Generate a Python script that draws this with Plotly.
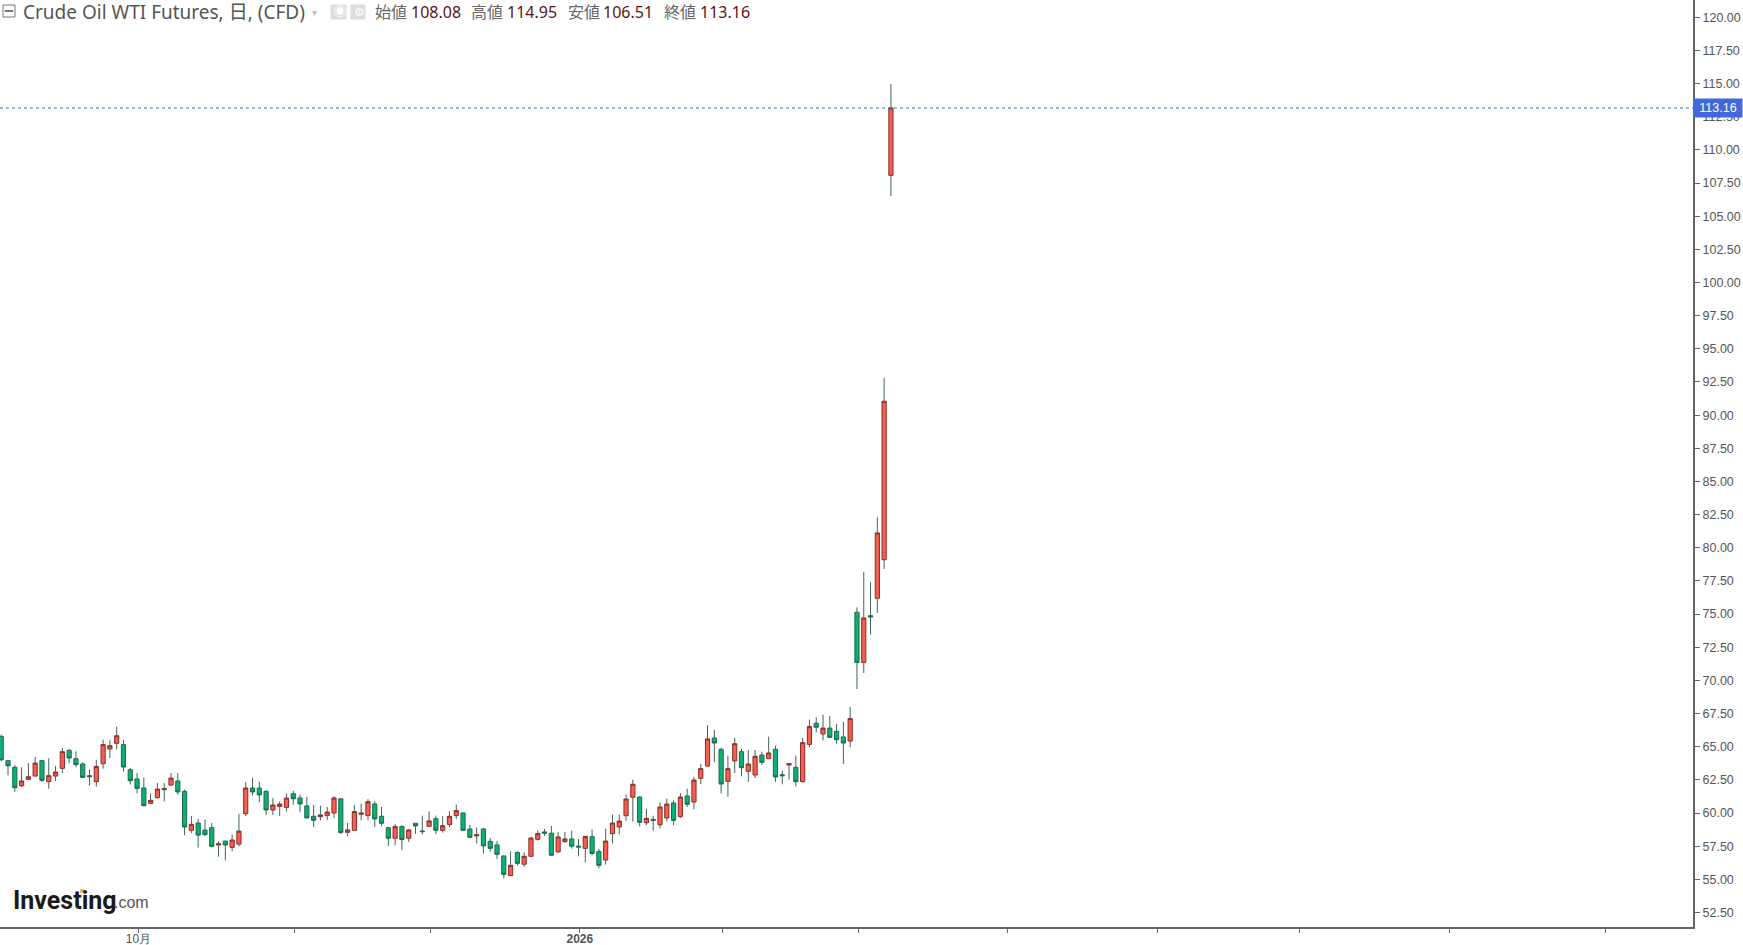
import plotly.graph_objects as go

# daily candles
opens = [65.78, 63.95, 63.45, 62.06, 62.54, 62.79, 63.95, 62.37, 62.79, 63.37,
         64.73, 64.10, 63.70, 62.82, 62.37, 63.72, 64.83, 65.26, 65.16, 63.27,
         62.57, 61.89, 60.73, 61.16, 61.76, 62.11, 62.42, 61.64, 58.70, 59.25,
         58.72, 58.90, 57.59, 57.89, 57.41, 57.66, 59.95, 61.89, 61.89, 61.64,
         60.23, 60.50, 60.43, 61.46, 61.14, 60.54, 59.76, 59.73, 59.81, 60.01,
         61.07, 58.55, 58.70, 59.91, 59.81, 60.69, 59.76, 58.90, 58.10, 58.98,
         58.10, 59.23, 58.65, 59.00, 59.58, 58.70, 59.13, 59.81, 60.01, 58.80,
         58.27, 58.80, 57.87, 57.60, 56.77, 55.28, 57.02, 56.14, 56.74, 58.02,
         58.58, 58.48, 57.07, 57.85, 58.05, 57.51, 57.34, 58.22, 57.11, 56.46,
         58.45, 58.95, 59.80, 61.19, 61.21, 59.27, 59.53, 59.12, 59.63, 60.76,
         59.73, 61.29, 60.83, 62.62, 63.55, 65.66, 64.81, 62.39, 63.93, 64.63,
         63.15, 62.87, 64.38, 64.10, 64.81, 62.89, 63.62, 63.45, 62.37, 65.18,
         66.77, 65.96, 66.41, 66.16, 65.74, 65.43, 75.14, 71.36, 74.88, 76.20,
         79.10, 108.08]
highs = [65.91, 64.02, 63.60, 63.45, 63.77, 64.23, 63.97, 64.13, 63.55, 64.90,
         64.83, 64.65, 63.82, 63.27, 64.02, 65.53, 65.48, 66.51, 65.51, 63.40,
         63.02, 62.67, 61.49, 62.26, 62.26, 63.02, 63.02, 61.76, 59.78, 59.55,
         59.52, 59.27, 57.87, 57.89, 58.37, 59.95, 62.34, 62.67, 62.37, 61.71,
         61.13, 60.88, 61.49, 61.69, 61.39, 61.22, 60.61, 60.56, 60.46, 61.27,
         61.12, 59.25, 60.61, 60.71, 61.04, 60.89, 60.46, 58.95, 59.18, 59.08,
         58.80, 59.25, 59.81, 60.13, 59.81, 59.78, 60.13, 60.64, 60.06, 59.10,
         58.90, 58.88, 58.12, 57.90, 56.79, 57.12, 57.12, 57.04, 58.20, 58.70,
         58.80, 59.03, 58.58, 58.58, 58.68, 58.04, 58.24, 58.75, 57.29, 58.82,
         59.88, 59.88, 61.39, 62.52, 61.26, 60.31, 59.80, 60.81, 61.09, 60.96,
         61.51, 61.84, 62.72, 63.70, 66.62, 66.29, 64.93, 64.33, 65.69, 64.83,
         64.76, 64.76, 64.63, 65.76, 65.08, 63.20, 63.77, 64.33, 65.66, 67.04,
         67.22, 67.42, 67.32, 66.72, 66.89, 68.00, 75.51, 78.18, 77.40, 82.30,
         92.81, 114.95]
lows = [63.90, 62.84, 61.59, 61.96, 62.52, 62.77, 62.34, 61.84, 62.42, 63.02,
        63.77, 63.45, 62.67, 62.09, 61.99, 63.35, 64.15, 64.80, 63.12, 62.16,
        61.49, 60.50, 60.71, 61.11, 60.88, 62.06, 61.38, 58.32, 58.49, 57.39,
        58.29, 57.41, 56.71, 56.43, 57.11, 57.49, 59.78, 61.33, 60.81, 59.85,
        59.85, 59.78, 60.13, 60.63, 60.06, 59.61, 58.95, 59.46, 59.46, 59.63,
        58.43, 58.25, 58.68, 59.46, 59.46, 58.95, 59.00, 57.50, 57.57, 57.22,
        57.82, 58.43, 58.40, 58.95, 58.40, 58.53, 58.95, 59.56, 58.65, 58.10,
        57.70, 56.94, 57.09, 56.54, 55.08, 55.26, 56.04, 55.94, 56.72, 57.92,
        58.27, 56.79, 57.04, 57.75, 57.32, 56.74, 56.28, 56.81, 55.83, 56.11,
        57.72, 58.39, 59.43, 59.35, 59.00, 59.10, 58.67, 58.85, 59.38, 59.07,
        59.63, 60.46, 60.28, 62.19, 63.47, 63.83, 61.49, 61.24, 63.02, 62.77,
        62.34, 62.64, 63.62, 64.08, 62.34, 62.17, 62.52, 62.01, 62.32, 64.98,
        66.09, 65.48, 65.66, 65.23, 63.70, 64.96, 69.35, 70.56, 73.45, 75.09,
        78.40, 106.51]
closes = [64.02, 63.57, 61.91, 62.42, 62.74, 63.77, 62.47, 62.82, 63.09, 64.63,
          64.15, 63.65, 62.69, 62.74, 63.52, 65.16, 65.08, 65.83, 63.47, 62.44,
          61.86, 60.56, 60.96, 61.81, 61.84, 62.64, 61.59, 58.95, 59.15, 58.34,
          58.37, 57.49, 57.69, 57.59, 57.97, 58.64, 61.89, 61.59, 61.36, 60.23,
          60.61, 60.68, 61.13, 61.08, 60.69, 59.63, 59.46, 59.86, 60.08, 61.14,
          58.53, 58.73, 60.11, 60.01, 60.86, 59.56, 59.23, 58.10, 58.98, 58.00,
          58.73, 59.03, 58.60, 59.41, 58.70, 59.05, 59.76, 60.19, 58.70, 58.17,
          58.37, 57.52, 57.34, 56.89, 55.38, 56.06, 56.21, 56.74, 58.12, 58.45,
          58.48, 56.82, 58.20, 58.05, 57.50, 57.44, 58.24, 56.96, 56.06, 57.89,
          59.25, 59.40, 61.06, 62.17, 59.30, 59.60, 59.45, 60.46, 60.68, 59.45,
          61.21, 60.66, 62.49, 63.35, 65.59, 65.28, 62.19, 63.35, 65.23, 63.42,
          63.70, 64.28, 63.83, 64.53, 62.72, 62.82, 63.73, 62.37, 65.31, 66.52,
          66.47, 66.41, 65.71, 65.53, 65.28, 67.12, 71.36, 74.71, 74.78, 81.12,
          91.05, 113.16]

# month ticks, in candle numbers (the right hand ones run past the last candle)
tick_pos = [20.2, 43.2, 63.2, 85.2, 106.2, 126.2, 148.2, 170.2, 191.2, 213.2, 236.2]
tick_text = ["10月", "", "", "<b>2026</b>", "", "", "", "", "", "", ""]

last_price = closes[-1]
legend_labels = ["始値", "高値", "安値", "終値"]
legend_values = ["108.08", "114.95", "106.51", "113.16"]

UP = "#f4604f"
UP_EDGE = "#8c2a26"
DOWN = "#0cb074"
DOWN_EDGE = "#1b6b4a"
WICK = "#3f6656"
AXIS = "#666666"
W, H = 1743, 945
xs = list(range(len(opens)))

# wicks go separately, plotly would give them the same colour as the body edge
wick_x = []
wick_y = []
for i in xs:
    top = max(opens[i], closes[i])
    bot = min(opens[i], closes[i])
    wick_x += [i, i, None, i, i, None]
    wick_y += [highs[i], top, None, bot, lows[i], None]

fig = go.Figure()
fig.add_trace(go.Candlestick(
    x=xs,
    open=opens, high=[max(a, b) for a, b in zip(opens, closes)],
    low=[min(a, b) for a, b in zip(opens, closes)], close=closes,
    increasing=dict(fillcolor=UP, line=dict(color=UP_EDGE, width=1)),
    decreasing=dict(fillcolor=DOWN, line=dict(color=DOWN_EDGE, width=1)),
    whiskerwidth=0,
    showlegend=False,
))
fig.add_trace(go.Scatter(x=wick_x, y=wick_y, mode="lines",
                         line=dict(color=WICK, width=1), showlegend=False,
                         hoverinfo="skip"))
fig.add_hline(y=last_price, line=dict(color="#3b63e0", width=1, dash="dot"))

fig.update_layout(
    width=W, height=H,
    margin=dict(l=0, r=50, t=0, b=18),
    paper_bgcolor="white", plot_bgcolor="white",
    boxgap=0.12,
    showlegend=False,
    font=dict(family="Liberation Sans, Arial, sans-serif", size=12.5, color="#555555"),
    xaxis=dict(
        range=[-0.18, 249.1], rangeslider=dict(visible=False), automargin=False,
        tickmode="array", tickvals=tick_pos, ticktext=tick_text,
        ticks="outside", ticklen=4, tickcolor=AXIS, tickwidth=1,
        ticklabelstandoff=-4, tickfont=dict(size=12),
        showline=True, linecolor=AXIS, linewidth=2, showgrid=False, zeroline=False,
        tickangle=0,
    ),
    yaxis=dict(
        range=[51.41, 121.30], side="right", dtick=2.5, tick0=0, tickformat=".2f",
        automargin=False,
        ticks="outside", ticklen=5, tickcolor=AXIS, tickwidth=1,
        showline=True, linecolor=AXIS, linewidth=2, showgrid=False, zeroline=False,
    ),
)

# last price tag on the axis
fig.add_annotation(xref="paper", x=1, xanchor="left", yref="y", y=last_price,
                   text=f"{last_price:.2f}", showarrow=False, width=46, height=16,
                   align="center", bgcolor="#4169dc", borderpad=1,
                   font=dict(color="white", size=12.5))

# header strip
HEAD_FONT = "Noto Sans, Noto Sans CJK JP, sans-serif"
def head_text(px, txt, color, size=16):
    fig.add_annotation(xref="paper", yref="paper", x=px / (W - 50), y=1 - 12 / (H - 18),
                       xanchor="left", yanchor="middle", text=txt, showarrow=False,
                       font=dict(family=HEAD_FONT, size=size, color=color))

head_text(21, "Crude Oil WTI Futures, 日, (CFD)", "#555555", 19)
for px, lab in zip([373, 469, 566, 662], legend_labels):
    head_text(px, lab, "#666666", 16)
for px, val in zip([409, 505, 601, 698], legend_values):
    head_text(px, val, "#5a1512", 16)

def box_shape(x0, y0, x1, y1, fill, edge=None):
    fig.add_shape(type="rect", xref="paper", yref="paper",
                  x0=x0 / (W - 50), x1=x1 / (W - 50),
                  y0=1 - y0 / (H - 18), y1=1 - y1 / (H - 18),
                  fillcolor=fill, line=dict(color=edge or fill, width=1))

box_shape(3, 5, 15, 17, "white", "#777777")
box_shape(5, 10.5, 13, 11.5, "#777777")
box_shape(331, 5, 346, 19, "#dddddd")
box_shape(351, 5, 365, 19, "#dddddd")
head_text(332, "◉", "white", 12)
head_text(352, "⚙", "white", 12)
head_text(310, "▾", "#bbbbbb", 10)

# logo
fig.add_annotation(xref="paper", yref="paper", x=11 / (W - 50), y=1 - 900 / (H - 18),
                   xanchor="left", yanchor="middle", text="<b>Investing</b>", showarrow=False,
                   font=dict(family="Roboto, Liberation Sans, Arial", size=25, color="#1a1a1a"))
fig.add_annotation(xref="paper", yref="paper", x=112 / (W - 50), y=1 - 902 / (H - 18),
                   xanchor="left", yanchor="middle", text=".com", showarrow=False,
                   font=dict(family="Liberation Sans, Arial", size=16, color="#555555"))
fig.add_shape(type="circle", xref="paper", yref="paper",
              x0=80 / (W - 50), x1=84 / (W - 50), y0=1 - 893 / (H - 18), y1=1 - 889 / (H - 18),
              fillcolor="#f5a623", line=dict(width=0))

fig.write_html("out.html", config=dict(displayModeBar=False),
               post_script="document.body.style.margin='0';")
